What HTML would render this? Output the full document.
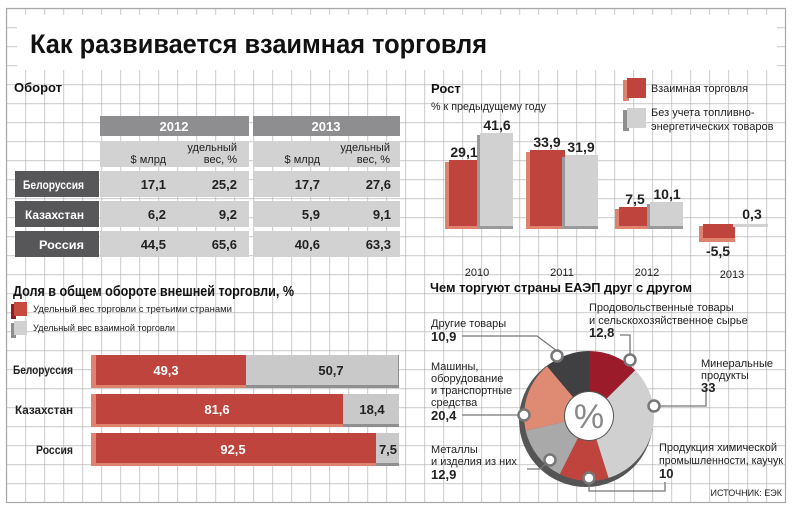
<!DOCTYPE html>
<html><head><meta charset="utf-8"><style>
html,body{margin:0;padding:0;background:#fff}
svg{display:block}
text{font-family:"Liberation Sans","DejaVu Sans",sans-serif}
</style></head><body>
<svg width="794" height="509" viewBox="0 0 794 509" xmlns="http://www.w3.org/2000/svg">
<defs>
<pattern id="g" x="6.5" y="8.5" width="19" height="19" patternUnits="userSpaceOnUse">
<path d="M0 0H19M0 0V19" stroke="#a9a9a9" stroke-width="1.2" fill="none"/>
</pattern>
</defs>
<rect x="6.5" y="8.5" width="779" height="494" fill="url(#g)" stroke="#a9a9a9" stroke-width="1.2"/>
<rect x="17" y="15" width="760" height="55" fill="#fff"/>
<text x="30" y="53" font-size="27" font-weight="bold" fill="#111" textLength="457" lengthAdjust="spacingAndGlyphs">Как развивается взаимная торговля</text>

<text x="14" y="92" font-size="13" font-weight="bold" fill="#111">Оборот</text>
<rect x="100" y="116" width="149" height="20" fill="#8e8e90"/>
<rect x="253" y="116" width="147" height="20" fill="#8e8e90"/>
<text x="174" y="131" font-size="13" font-weight="bold" fill="#fff" text-anchor="middle">2012</text>
<text x="326" y="131" font-size="13" font-weight="bold" fill="#fff" text-anchor="middle">2013</text>
<rect x="100" y="141" width="149" height="26" fill="#d2d2d3"/>
<rect x="253" y="141" width="147" height="26" fill="#d2d2d3"/>
<g font-size="11" fill="#222" text-anchor="end">
<text x="166" y="163">$ млрд</text><text x="237" y="151">удельный</text><text x="237" y="163">вес, %</text>
<text x="320" y="163">$ млрд</text><text x="390" y="151">удельный</text><text x="390" y="163">вес, %</text>
</g>
<g font-size="13" font-weight="bold">
<rect x="15" y="171" width="84" height="26" fill="#57575a"/>
<rect x="100" y="171" width="149" height="26" fill="#d2d2d3"/><rect x="253" y="171" width="147" height="26" fill="#d2d2d3"/>
<rect x="15" y="201" width="84" height="26" fill="#57575a"/>
<rect x="100" y="201" width="149" height="26" fill="#d2d2d3"/><rect x="253" y="201" width="147" height="26" fill="#d2d2d3"/>
<rect x="15" y="231" width="84" height="26" fill="#57575a"/>
<rect x="100" y="231" width="149" height="26" fill="#d2d2d3"/><rect x="253" y="231" width="147" height="26" fill="#d2d2d3"/>
<g fill="#fff" text-anchor="end" font-size="11.5">
<text x="84" y="189" textLength="61" lengthAdjust="spacingAndGlyphs">Белоруссия</text>
<text x="84" y="219" textLength="59" lengthAdjust="spacingAndGlyphs">Казахстан</text>
<text x="84" y="249" textLength="45" lengthAdjust="spacingAndGlyphs">Россия</text></g>
<g fill="#222" text-anchor="end">
<text x="166" y="189">17,1</text><text x="237" y="189">25,2</text><text x="320" y="189">17,7</text><text x="391" y="189">27,6</text>
<text x="166" y="219">6,2</text><text x="237" y="219">9,2</text><text x="320" y="219">5,9</text><text x="391" y="219">9,1</text>
<text x="166" y="249">44,5</text><text x="237" y="249">65,6</text><text x="320" y="249">40,6</text><text x="391" y="249">63,3</text>
</g></g>

<text x="431" y="93" font-size="13" font-weight="bold" fill="#111">Рост</text>
<text x="431" y="110" font-size="11" fill="#222" textLength="115" lengthAdjust="spacingAndGlyphs">% к предыдущему году</text>
<rect x="623" y="80" width="6" height="21" fill="#e0836e"/><rect x="627" y="78" width="19" height="20" fill="#bf443d"/>
<text x="651" y="92" font-size="11" fill="#222" textLength="97" lengthAdjust="spacingAndGlyphs">Взаимная торговля</text>
<rect x="623" y="110" width="6" height="21" fill="#8f8f91"/><rect x="627" y="108" width="19" height="20" fill="#d1d1d2"/>
<text x="651" y="116" font-size="11" fill="#222">Без учета топливно-</text>
<text x="651" y="130" font-size="11" fill="#222">энергетических товаров</text>
<g>
<rect x="445" y="162" width="35" height="67" fill="#e0836e"/><rect x="449" y="160" width="31" height="66" fill="#bf443d"/>
<rect x="477" y="135" width="36" height="94" fill="#9a9a9c"/><rect x="480" y="133" width="33" height="93" fill="#d1d1d2"/>
<rect x="526" y="152" width="39" height="77" fill="#e0836e"/><rect x="530" y="150" width="35" height="76" fill="#bf443d"/>
<rect x="562" y="157" width="36" height="72" fill="#9a9a9c"/><rect x="565" y="155" width="33" height="71" fill="#d1d1d2"/>
<rect x="615" y="209" width="35" height="20" fill="#e0836e"/><rect x="619" y="207" width="31" height="19" fill="#bf443d"/>
<rect x="647" y="204" width="36" height="25" fill="#9a9a9c"/><rect x="650" y="202" width="33" height="24" fill="#d1d1d2"/>
<rect x="699" y="226" width="36" height="16" fill="#e0836e"/><rect x="703" y="224" width="32" height="14" fill="#bf443d"/>
<rect x="733" y="224" width="35" height="3" fill="#d1d1d2"/>
</g>
<g font-size="14" font-weight="bold" fill="#222" text-anchor="middle">
<text x="464" y="157">29,1</text><text x="497" y="130">41,6</text>
<text x="547" y="147">33,9</text><text x="581" y="152">31,9</text>
<text x="635" y="204">7,5</text><text x="667" y="199">10,1</text>
<text x="718" y="256">-5,5</text><text x="752" y="219">0,3</text>
</g>
<g font-size="11" fill="#222" text-anchor="middle">
<text x="477" y="276">2010</text><text x="562" y="276">2011</text><text x="647" y="276">2012</text><text x="732" y="278">2013</text>
</g>

<text x="13" y="296" font-size="15" font-weight="bold" fill="#111" textLength="281" lengthAdjust="spacingAndGlyphs">Доля в общем обороте внешней торговли, %</text>
<rect x="11" y="304" width="5" height="15" fill="#8e1d25"/><rect x="14" y="302" width="13" height="14" fill="#c74a3f"/>
<text x="33" y="312" font-size="9.5" fill="#222" textLength="199" lengthAdjust="spacingAndGlyphs">Удельный вес торговли с третьими странами</text>
<rect x="11" y="323" width="5" height="15" fill="#8f8f91"/><rect x="14" y="321" width="13" height="14" fill="#d1d1d2"/>
<text x="33" y="331" font-size="9.5" fill="#222" textLength="142" lengthAdjust="spacingAndGlyphs">Удельный вес взаимной торговли</text>
<g font-size="12" font-weight="bold" fill="#222" text-anchor="end">
<text x="73" y="374" textLength="60" lengthAdjust="spacingAndGlyphs">Белоруссия</text>
<text x="73" y="414" textLength="58" lengthAdjust="spacingAndGlyphs">Казахстан</text>
<text x="73" y="454" textLength="37" lengthAdjust="spacingAndGlyphs">Россия</text>
</g>
<g>
<rect x="91" y="355" width="308" height="33" fill="#8f8f91"/>
<rect x="91" y="355" width="155" height="33" fill="#e0836e"/>
<rect x="96" y="355" width="150" height="30" fill="#bf443d"/>
<rect x="246" y="355" width="152" height="30" fill="#c9c9ca"/>
<rect x="91" y="394" width="308" height="33" fill="#8f8f91"/>
<rect x="91" y="394" width="252" height="33" fill="#e0836e"/>
<rect x="96" y="394" width="247" height="30" fill="#bf443d"/>
<rect x="343" y="394" width="56" height="30" fill="#c9c9ca"/>
<rect x="91" y="433" width="308" height="33" fill="#8f8f91"/>
<rect x="91" y="433" width="285" height="33" fill="#e0836e"/>
<rect x="96" y="433" width="280" height="30" fill="#bf443d"/>
<rect x="376" y="433" width="23" height="30" fill="#c9c9ca"/>
</g>
<g font-size="13" font-weight="bold" text-anchor="middle">
<text x="166" y="375" fill="#fff">49,3</text><text x="331" y="375" fill="#222">50,7</text>
<text x="217" y="414" fill="#fff">81,6</text><text x="372" y="414" fill="#222">18,4</text>
<text x="233" y="454" fill="#fff">92,5</text><text x="388" y="454" fill="#222">7,5</text>
</g>

<text x="430" y="292" font-size="13" font-weight="bold" fill="#111" textLength="262" lengthAdjust="spacingAndGlyphs">Чем торгуют страны ЕАЭП друг с другом</text>
<circle cx="586" cy="420" r="67" fill="#555"/>
<g transform="translate(589,416)">
<path d="M0,-65 A65,65 0 0 1 46.2,-45.7 L17.8,-17.6 A25,25 0 0 0 0,-25 Z" fill="#9b1b2a"/>
<path d="M46.2,-45.7 A65,65 0 0 1 19.5,62.0 L7.5,23.8 A25,25 0 0 0 17.8,-17.6 Z" fill="#d0d0d1"/>
<path d="M19.5,62.0 A65,65 0 0 1 -29.2,58.1 L-11.2,22.3 A25,25 0 0 0 7.5,23.8 Z" fill="#bf443d"/>
<path d="M-29.2,58.1 A65,65 0 0 1 -63.3,14.7 L-24.4,5.7 A25,25 0 0 0 -11.2,22.3 Z" fill="#a9a9aa"/>
<path d="M-63.3,14.7 A65,65 0 0 1 -41.9,-49.7 L-16.1,-19.1 A25,25 0 0 0 -24.4,5.7 Z" fill="#df8a73"/>
<path d="M-41.9,-49.7 A65,65 0 0 1 0,-65 L0,-25 A25,25 0 0 0 -16.1,-19.1 Z" fill="#404042"/>
<circle r="24" fill="#fff"/>
<text x="0" y="12" font-size="34" fill="#888" text-anchor="middle">%</text>
</g>
<g fill="none" stroke="#777" stroke-width="1.3">
<path d="M462,336 H537 L557,351"/>
<path d="M620,335 H630 V358"/>
<path d="M656,406 H706 V389"/>
<path d="M462,415 H523"/>
<path d="M527,469 H540 L550,460"/>
<path d="M589,480 V491 H665 V482"/>
</g>
<g fill="#fff" stroke="#777" stroke-width="2.5">
<circle cx="557" cy="356" r="5.5"/><circle cx="630" cy="360" r="5.5"/><circle cx="654" cy="406" r="5.5"/>
<circle cx="524" cy="415" r="5.5"/><circle cx="550" cy="460" r="5.5"/><circle cx="589" cy="478" r="5.5"/>
</g>
<g font-size="11" fill="#222">
<text x="431" y="327">Другие товары</text>
<text x="431" y="341" font-size="13" font-weight="bold">10,9</text>
<text x="431" y="370">Машины,</text><text x="431" y="382">оборудование</text><text x="431" y="394">и транспортные</text><text x="431" y="406">средства</text>
<text x="431" y="420" font-size="13" font-weight="bold">20,4</text>
<text x="431" y="453">Металлы</text><text x="431" y="465">и изделия из них</text>
<text x="431" y="479" font-size="13" font-weight="bold">12,9</text>
<text x="589" y="311">Продовольственные товары</text><text x="589" y="324">и сельскохозяйственное сырье</text>
<text x="589" y="337" font-size="13" font-weight="bold">12,8</text>
<text x="701" y="367">Минеральные</text><text x="701" y="379">продукты</text>
<text x="701" y="392" font-size="13" font-weight="bold">33</text>
<text x="659" y="451">Продукция химической</text><text x="659" y="464" textLength="124" lengthAdjust="spacingAndGlyphs">промышленности, каучук</text>
<text x="659" y="478" font-size="13" font-weight="bold">10</text>
<text x="782" y="496" font-size="9" text-anchor="end">ИСТОЧНИК: ЕЭК</text>
</g>
</svg>
</body></html>
